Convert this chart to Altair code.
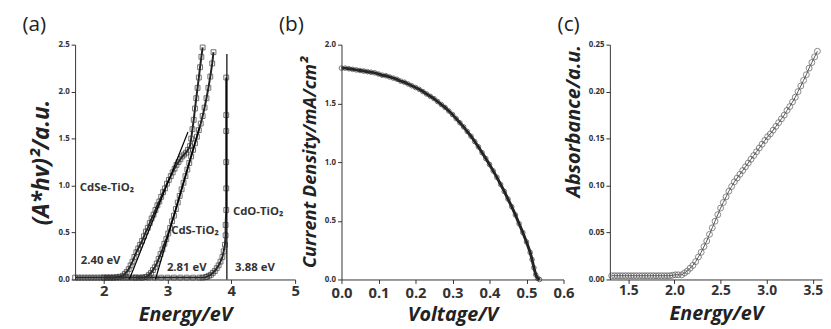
import altair as alt
import pandas as pd

# ---------------- panel (a) data ----------------
cdse_e = [1.55, 1.60, 1.65, 1.70, 1.75, 1.80, 1.85, 1.90, 1.95, 2.00, 2.05, 2.10, 2.15, 2.20, 2.25,
          2.30, 2.33, 2.36, 2.39, 2.42, 2.45, 2.48, 2.51, 2.54, 2.57, 2.60, 2.63, 2.66, 2.69, 2.72,
          2.75, 2.78, 2.81, 2.84, 2.87, 2.90, 2.93, 2.96, 2.99, 3.02, 3.05, 3.08, 3.11, 3.14, 3.17,
          3.20, 3.23, 3.26, 3.29, 3.32, 3.35, 3.37, 3.39, 3.41, 3.43, 3.45, 3.47, 3.49, 3.51, 3.53, 3.55]
cdse_v = [0.02, 0.02, 0.02, 0.02, 0.02, 0.02, 0.02, 0.02, 0.02, 0.02, 0.02, 0.02, 0.02, 0.025, 0.03,
          0.04, 0.06, 0.08, 0.11, 0.15, 0.19, 0.24, 0.29, 0.33, 0.37, 0.41, 0.46, 0.51, 0.55, 0.60,
          0.65, 0.69, 0.74, 0.79, 0.83, 0.88, 0.93, 0.97, 1.02, 1.06, 1.10, 1.14, 1.18, 1.22, 1.25,
          1.28, 1.31, 1.33, 1.35, 1.38, 1.42, 1.50, 1.60, 1.70, 1.82, 1.93, 2.04, 2.15, 2.26, 2.37, 2.47]

cds_e = [2.00, 2.05, 2.10, 2.15, 2.20, 2.25, 2.30, 2.35, 2.40, 2.45, 2.50, 2.55, 2.60, 2.65,
         2.68, 2.71, 2.74, 2.77, 2.80, 2.83, 2.86, 2.89, 2.92, 2.95, 2.98, 3.01, 3.04, 3.07, 3.10,
         3.13, 3.16, 3.19, 3.22, 3.25, 3.28, 3.31, 3.34, 3.37, 3.40, 3.43, 3.46, 3.49, 3.52, 3.55,
         3.58, 3.61, 3.64, 3.67, 3.70, 3.72]
cds_v = [0.02, 0.02, 0.02, 0.02, 0.02, 0.02, 0.02, 0.02, 0.02, 0.02, 0.02, 0.02, 0.02, 0.025,
         0.03, 0.05, 0.07, 0.10, 0.13, 0.17, 0.22, 0.27, 0.32, 0.38, 0.43, 0.49, 0.55, 0.62, 0.68,
         0.75, 0.82, 0.89, 0.96, 1.03, 1.10, 1.17, 1.24, 1.31, 1.38, 1.45, 1.52, 1.59, 1.66, 1.74,
         1.83, 1.93, 2.04, 2.16, 2.30, 2.42]

cdo_e = [2.50, 2.60, 2.70, 2.80, 2.90, 3.00, 3.10, 3.20, 3.30, 3.40, 3.50, 3.55, 3.60,
         3.62, 3.65, 3.68, 3.71, 3.74, 3.77, 3.80, 3.83, 3.86, 3.88, 3.90, 3.91, 3.91, 3.92,
         3.92, 3.92, 3.92, 3.92, 3.92]
cdo_v = [0.02, 0.02, 0.02, 0.02, 0.02, 0.02, 0.02, 0.02, 0.02, 0.02, 0.02, 0.02, 0.025,
         0.03, 0.04, 0.05, 0.07, 0.09, 0.12, 0.15, 0.19, 0.24, 0.30, 0.37, 0.47, 0.58, 0.74,
         0.97, 1.25, 1.58, 1.75, 2.15]

tan_series = ["CdSe", "CdSe", "CdS", "CdS", "CdO", "CdO"]
tan_e = [2.40, 3.32, 2.81, 3.50, 3.93, 3.93]
tan_v = [0.0, 1.57, 0.0, 1.62, 0.0, 2.40]

ann_text = ["CdSe-TiO₂", "CdS-TiO₂", "CdO-TiO₂", "2.40 eV", "2.81 eV", "3.88 eV"]
ann_e = [2.05, 3.43, 4.42, 1.95, 3.30, 4.37]
ann_v = [0.97, 0.52, 0.72, 0.20, 0.12, 0.12]

# ---------------- panel (b) data ----------------
jv_v = [0.00, 0.01, 0.02, 0.03, 0.04, 0.05, 0.06, 0.07, 0.08, 0.09, 0.10, 0.11, 0.12, 0.13,
        0.14, 0.15, 0.16, 0.17, 0.18, 0.19, 0.20, 0.21, 0.22, 0.23, 0.24, 0.25, 0.26, 0.27,
        0.28, 0.29, 0.30, 0.31, 0.32, 0.33, 0.34, 0.35, 0.36, 0.37, 0.38, 0.39, 0.40, 0.41,
        0.42, 0.43, 0.44, 0.45, 0.46, 0.47, 0.48, 0.49, 0.50, 0.51, 0.515, 0.52, 0.525, 0.53, 0.535]
jv_j = [1.80, 1.80, 1.795, 1.79, 1.785, 1.78, 1.775, 1.77, 1.765, 1.76, 1.75, 1.74, 1.735, 1.725,
        1.715, 1.705, 1.69, 1.68, 1.665, 1.65, 1.635, 1.62, 1.60, 1.58, 1.56, 1.54, 1.515, 1.49,
        1.465, 1.435, 1.405, 1.37, 1.335, 1.30, 1.26, 1.22, 1.175, 1.13, 1.08, 1.03, 0.98, 0.925,
        0.87, 0.81, 0.75, 0.685, 0.62, 0.55, 0.475, 0.40, 0.32, 0.23, 0.17, 0.10, 0.04, 0.01, 0.0]

# ---------------- panel (c) data ----------------
abs_e = [1.32, 1.35, 1.38, 1.41, 1.44, 1.47, 1.50, 1.53, 1.56, 1.59, 1.62, 1.65, 1.68, 1.71,
         1.74, 1.77, 1.80, 1.83, 1.86, 1.89, 1.92, 1.95, 1.98, 2.01, 2.04, 2.08, 2.11, 2.14,
         2.17, 2.20, 2.23, 2.26, 2.29, 2.32, 2.35, 2.38, 2.41, 2.44, 2.47, 2.50, 2.53, 2.56,
         2.59, 2.62, 2.65, 2.68, 2.71, 2.74, 2.77, 2.80, 2.83, 2.86, 2.89, 2.92, 2.95, 2.98,
         3.01, 3.04, 3.07, 3.10, 3.13, 3.16, 3.19, 3.22, 3.25, 3.28, 3.31, 3.34, 3.37, 3.40,
         3.43, 3.46, 3.49, 3.52, 3.55]
abs_a = [0.004, 0.004, 0.004, 0.004, 0.004, 0.004, 0.004, 0.004, 0.004, 0.004, 0.004, 0.004,
         0.004, 0.004, 0.004, 0.004, 0.004, 0.004, 0.004, 0.004, 0.004, 0.004, 0.0045, 0.005,
         0.005, 0.005, 0.007, 0.009, 0.012, 0.015, 0.019, 0.024, 0.029, 0.035, 0.041, 0.048,
         0.055, 0.062, 0.069, 0.076, 0.082, 0.088, 0.094, 0.099, 0.104, 0.108, 0.112, 0.116,
         0.120, 0.124, 0.128, 0.132, 0.136, 0.140, 0.144, 0.148, 0.152, 0.155, 0.159, 0.163,
         0.167, 0.171, 0.175, 0.180, 0.184, 0.189, 0.194, 0.200, 0.206, 0.212, 0.218, 0.225,
         0.231, 0.237, 0.243]

# ---------------- build frames ----------------
rows = []
for name, es, vs in [("CdSe", cdse_e, cdse_v), ("CdS", cds_e, cds_v), ("CdO", cdo_e, cdo_v)]:
    for i, (e, v) in enumerate(zip(es, vs)):
        rows.append({"s": name, "i": i, "E": e, "v": v})
df_a = pd.DataFrame(rows)
df_tan = pd.DataFrame({"s": tan_series, "E": tan_e, "v": tan_v})
df_ann = pd.DataFrame({"t": ann_text, "E": ann_e, "v": ann_v})
df_b = pd.DataFrame({"V": jv_v, "J": jv_j})
df_c = pd.DataFrame({"E": abs_e, "A": abs_a})

FONT = "Open Sans"
H = 238

def ptitle(t, dx):
    return alt.TitleParams(t, anchor="start", frame="bounds", fontSize=21, font=FONT,
                           fontWeight="normal", color="#222", dx=dx, offset=6)

def xaxis(vals, fmt, lsize, title, lpad=0, tpad=7):
    return alt.Axis(values=vals, format=fmt, labelFontSize=lsize, labelFlush=False,
                    title=title, titleFontSize=20, labelPadding=lpad, titlePadding=tpad)

def yaxis(vals, fmt, title, tsize, anchor=None):
    kw = dict(values=vals, format=fmt, labelFontSize=8, labelFlush=False,
              title=title, titleFontSize=tsize, titlePadding=5)
    if anchor:
        kw["titleAnchor"] = anchor
    return alt.Axis(**kw)

# panel a
xa = alt.X("E:Q", scale=alt.Scale(domain=[1.55, 5], nice=False),
           axis=xaxis([2, 3, 4, 5], "d", 15, "Energy/eV"))
ya = alt.Y("v:Q", scale=alt.Scale(domain=[0, 2.5], nice=False),
           axis=yaxis([0, 0.5, 1.0, 1.5, 2.0, 2.5], ".1f", "(A*hv)²/a.u.", 23))

a_line = alt.Chart(df_a).mark_line(color="#222", strokeWidth=2).encode(
    x=xa, y=ya, detail="s:N", order="i:Q")
a_pts = alt.Chart(df_a).mark_point(shape="square", filled=False, size=24, strokeWidth=1,
                                   color="#333").encode(x=xa, y=ya)
a_tan = alt.Chart(df_tan).mark_line(color="#000", strokeWidth=1.2).encode(
    x=xa, y=ya, detail="s:N")
a_txt = alt.Chart(df_ann).mark_text(font=FONT, fontWeight="bold", fontSize=11.5,
                                    color="#333").encode(x=xa, y=ya, text="t:N")
panel_a = alt.layer(a_line, a_pts, a_tan, a_txt).properties(
    width=223, height=H, title=ptitle("(a)", -8))

# panel b
xb = alt.X("V:Q", scale=alt.Scale(domain=[0, 0.6], nice=False),
           axis=xaxis([0, 0.1, 0.2, 0.3, 0.4, 0.5, 0.6], ".1f", 15, "Voltage/V", 2, 5))
yb = alt.Y("J:Q", scale=alt.Scale(domain=[0, 2.0], nice=False),
           axis=yaxis([0, 0.5, 1.0, 1.5, 2.0], ".1f", "Current Density/mA/cm²", 18.5))
b_line = alt.Chart(df_b).mark_line(color="#222", strokeWidth=3).encode(x=xb, y=yb)
b_pts = alt.Chart(df_b).mark_point(shape="circle", filled=False, size=22, strokeWidth=1,
                                   color="#333").encode(x=xb, y=yb)
panel_b = alt.layer(b_line, b_pts).properties(width=225, height=H, title=ptitle("(b)", -22))

# panel c
xc = alt.X("E:Q", scale=alt.Scale(domain=[1.3, 3.6], nice=False),
           axis=xaxis([1.5, 2.0, 2.5, 3.0, 3.5], ".1f", 14, "Energy/eV"))
yc = alt.Y("A:Q", scale=alt.Scale(domain=[0, 0.25], nice=False),
           axis=yaxis([0, 0.05, 0.10, 0.15, 0.20, 0.25], ".2f", "Absorbance/a.u.", 20, "end"))
c_line = alt.Chart(df_c).mark_line(color="#555", strokeWidth=1).encode(x=xc, y=yc)
c_pts = alt.Chart(df_c).mark_point(shape="circle", filled=False, size=36, strokeWidth=1,
                                   color="#555").encode(x=xc, y=yc)
panel_c = alt.layer(c_line, c_pts).properties(width=215, height=H, title=ptitle("(c)", -6))

chart = alt.hconcat(panel_a, panel_b, panel_c, spacing=47, bounds="flush").properties(
    padding={"left": 14, "top": 4, "right": 0, "bottom": 0}
).configure_view(stroke=None).configure_axis(
    labelFont=FONT, labelFontWeight="bold", labelColor="#333",
    titleFont=FONT, titleFontWeight="bold", titleFontStyle="italic", titleColor="#222",
    grid=False, domainColor="#333", tickColor="#333", tickSize=4
)

chart.save("out.html", embed_options={"renderer": "svg", "actions": False})
